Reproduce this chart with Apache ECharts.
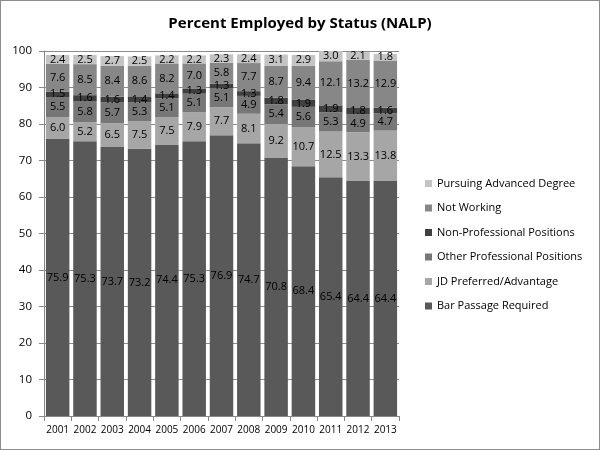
<!DOCTYPE html>
<html>
<head>
<meta charset="utf-8">
<script src="https://cdn.jsdelivr.net/npm/echarts@6/dist/echarts.min.js"></script>
<style>
  html, body { margin: 0; padding: 0; background: #fff; }
  #chart { width: 598px; height: 448px; border: 1px solid #8c8c8c; }
</style>
</head>
<body>
<div id="chart"></div>
<script>
// 年份
var years = ['2001', '2002', '2003', '2004', '2005', '2006', '2007', '2008', '2009', '2010', '2011', '2012', '2013'];

// 各类就业比例 (%)
var barPassage = [75.9, 75.3, 73.7, 73.2, 74.4, 75.3, 76.9, 74.7, 70.8, 68.4, 65.4, 64.4, 64.4];
var jdPreferred = [6.0, 5.2, 6.5, 7.5, 7.5, 7.9, 7.7, 8.1, 9.2, 10.7, 12.5, 13.3, 13.8];
var otherProfessional = [5.5, 5.8, 5.7, 5.3, 5.1, 5.1, 5.1, 4.9, 5.4, 5.6, 5.3, 4.9, 4.7];
var nonProfessional = [1.5, 1.6, 1.6, 1.4, 1.4, 1.3, 1.3, 1.3, 1.8, 1.9, 1.9, 1.8, 1.6];
var notWorking = [7.6, 8.5, 8.4, 8.6, 8.2, 7.0, 5.8, 7.7, 8.7, 9.4, 12.1, 13.2, 12.9];
var pursuingDegree = [2.4, 2.5, 2.7, 2.5, 2.2, 2.2, 2.3, 2.4, 3.1, 2.9, 3.0, 2.1, 1.8];

var yTicks = [0, 10, 20, 30, 40, 50, 60, 70, 80, 90, 100];

var seriesDefs = [
  { name: 'Bar Passage Required', data: barPassage, color: '#595959' },
  { name: 'JD Preferred/Advantage', data: jdPreferred, color: '#a6a6a6' },
  { name: 'Other Professional Positions', data: otherProfessional, color: '#777777' },
  { name: 'Non-Professional Positions', data: nonProfessional, color: '#404040' },
  { name: 'Not Working', data: notWorking, color: '#878787' },
  { name: 'Pursuing Advanced Degree', data: pursuingDegree, color: '#c4c4c4' }
];

var font = 'Open Sans';

var chart = echarts.init(document.getElementById('chart'));
chart.setOption({
  animation: false,
  title: {
    text: 'Percent Employed by Status (NALP)',
    left: 'center',
    top: 10,
    textStyle: { fontFamily: font, fontSize: 15, fontWeight: 'bold', color: '#000' }
  },
  legend: {
    orient: 'vertical',
    left: 419,
    top: 172,
    itemGap: 13.5,
    itemWidth: 7,
    itemHeight: 7,
    icon: 'rect',
    data: seriesDefs.map(function (s) { return s.name; }).reverse(),
    textStyle: { fontFamily: font, fontSize: 11, color: '#000' }
  },
  grid: { left: 43, right: 200, top: 50, bottom: 33, containLabel: false },
  xAxis: {
    type: 'category',
    data: years,
    axisLine: { lineStyle: { color: '#888' } },
    axisTick: { show: true, interval: 0, lineStyle: { color: '#888' } },
    axisLabel: { interval: 0, fontFamily: font, fontSize: 10, color: '#000', margin: 9 }
  },
  yAxis: {
    type: 'value',
    min: yTicks[0],
    max: yTicks[yTicks.length - 1],
    interval: 10,
    axisLine: { show: true, lineStyle: { color: '#888' } },
    axisTick: { show: true, length: 5, lineStyle: { color: '#888' } },
    splitLine: { lineStyle: { color: '#8c8c8c' } },
    axisLabel: { fontFamily: font, fontSize: 11.5, color: '#000', margin: 12 }
  },
  series: seriesDefs.map(function (s) {
    return {
      name: s.name,
      type: 'bar',
      stack: 'total',
      barCategoryGap: '14%',
      data: s.data,
      itemStyle: { color: s.color },
      label: {
        show: true,
        position: 'inside',
        fontFamily: font,
        fontSize: 11,
        color: '#000',
        formatter: function (p) { return p.value.toFixed(1); }
      }
    };
  })
});
</script>
</body>
</html>
